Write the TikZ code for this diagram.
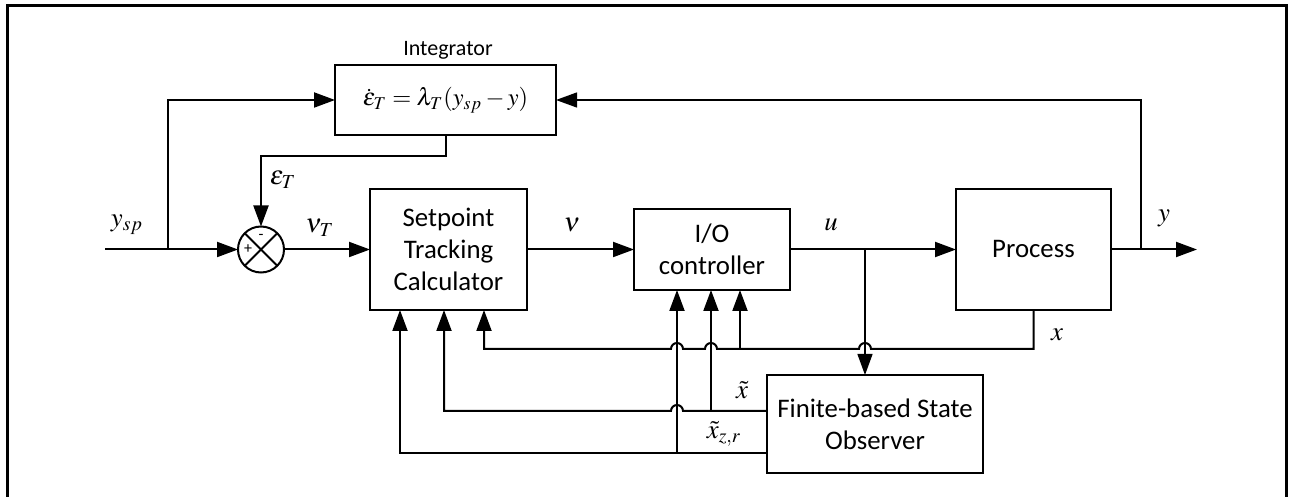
\documentclass[tikz,border=0pt]{standalone}
\usepackage{mathptmx}
\usepackage[no-math]{fontspec}
\setmainfont{Carlito}
\usetikzlibrary{arrows.meta,calc}

\tikzset{
  blk/.style={draw, line width=1pt, inner sep=0pt, outer sep=0pt, align=center,
    font=\fontsize{13.4}{16}\selectfont},
  wire/.style={line width=1pt},
  thinwire/.style={line width=0.65pt},
  arr/.style={-{Triangle[length=10.5pt,width=7.5pt]}},
  lbl/.style={font=\fontsize{13.4}{16}\selectfont, inner sep=0pt},
}

\begin{document}
\begin{tikzpicture}[x=0.5pt,y=-0.5pt]
\useasboundingbox (0,0) rectangle (1292,497);
% open frame
\draw[line width=1.5pt] (7,497) -- (7,6) -- (1286,6) -- (1286,497);

% blocks
\node[blk, minimum width=110.5pt, minimum height=35pt, font=\fontsize{12.2}{14}\selectfont] (integ) at (445.5,100)
  {$\dot{\varepsilon}_T = \lambda_T(y_{sp} - y)$};
\node[lbl, font=\fontsize{11}{13}\selectfont] (intlbl) at (448,50) {Integrator};
\node[blk, minimum width=78.5pt, minimum height=60.5pt] (stc) at (448.5,249.5)
  {Setpoint\\Tracking\\Calculator};
\node[blk, minimum width=78pt, minimum height=40.5pt] (io) at (712,249.5)
  {I/O\\controller};
\node[blk, minimum width=77.5pt, minimum height=60.5pt] (proc) at (1033.5,249.5)
  {Process};
\node[blk, minimum width=108pt, minimum height=49pt] (obs) at (875,424)
  {Finite-based State\\Observer};

% summing junction
\node[draw, circle, line width=1pt, minimum size=23pt, inner sep=0pt, outer sep=0pt] (sum) at (261,249.5) {};
\draw[line width=1pt] (sum.north east) -- (sum.south west);
\draw[line width=1pt] (sum.north west) -- (sum.south east);
\node[inner sep=0pt, font=\fontsize{8}{9}\selectfont] (plus) at (248,249) {+};
\node[inner sep=0pt, font=\fontsize{8}{9}\selectfont] (minus) at (261,237) {-};

% branch points and routing rows/columns
\coordinate (in) at (105,249.5);
\coordinate (jsp) at (168,249.5);
\coordinate (ju) at (865,249.5);
\coordinate (jy) at (1141,249.5);
\coordinate (out) at (1197,249.5);
\coordinate (s1) at (400,0);
\coordinate (s2) at (444,0);
\coordinate (s3) at (484,0);
\coordinate (i1) at (677,0);
\coordinate (i2) at (711,0);
\coordinate (i3) at (740,0);
\coordinate (rx) at (0,349);
\coordinate (rxt) at (0,411);
\coordinate (rxz) at (0,453);

% forward path
\draw[wire] (in) -- (jsp);
\draw[wire,arr] (jsp) -- (sum);
\draw[wire,arr] (jsp) |- (integ.west);
\draw[wire,arr] (integ.south) -- ++(0,21) -| (sum.north);
\draw[wire,arr] (sum) -- (stc);
\draw[wire,arr] (stc) -- (io);
\draw[wire,arr] (io) -- (proc);
\draw[wire,arr] (proc) -- (out);
\draw[thinwire,arr] (jy) |- (integ.east);
\draw[thinwire,arr] (ju) -- (ju |- obs.north);

% state x fed back, hopping over the crossing wires
\draw[wire,arr] (proc.south) |- ($(ju |- rx)+(6,0)$)
  arc[start angle=0,end angle=180,radius=3pt] -- ($(i2 |- rx)+(6,0)$)
  arc[start angle=0,end angle=180,radius=3pt] -- ($(i1 |- rx)+(6,0)$)
  arc[start angle=0,end angle=180,radius=3pt] -- (s3 |- rx) -- (s3 |- stc.south);
\draw[wire,arr] (i3 |- rx) -- (i3 |- io.south);

% observer outputs
\draw[wire,arr] (obs.west |- rxt) -- ($(i1 |- rxt)+(6,0)$)
  arc[start angle=0,end angle=180,radius=3pt] -- (s2 |- rxt) -- (s2 |- stc.south);
\draw[wire,arr] (i2 |- rxt) -- (i2 |- io.south);
\draw[wire,arr] (obs.west |- rxz) -- (s1 |- rxz) -- (s1 |- stc.south);
\draw[wire,arr] (i1 |- rxz) -- (i1 |- io.south);

% signal labels
\node[lbl] (lysp) at (127,225) {$y_{sp}$};
\node[lbl] (leps) at (283,180) {$\varepsilon_T$};
\node[lbl] (lnuT) at (320,228) {$\nu_T$};
\node[lbl] (lnu) at (572,225) {$\nu$};
\node[lbl] (lu) at (831,225) {$u$};
\node[lbl] (ly) at (1164,218) {$y$};
\node[lbl] (lx) at (1057,335) {$x$};
\node[lbl] (lxt) at (742,390) {$\tilde{x}$};
\node[lbl] (lxz) at (724,434) {$\tilde{x}_{z,r}$};
\end{tikzpicture}
\end{document}
